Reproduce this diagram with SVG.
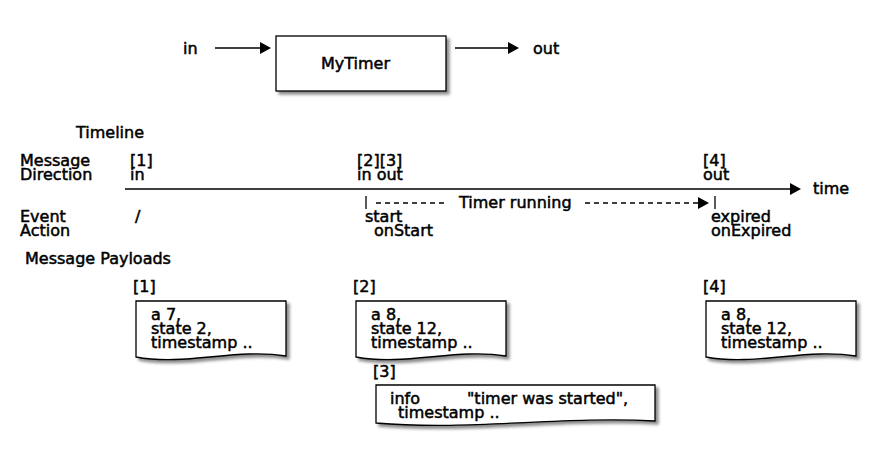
<svg xmlns="http://www.w3.org/2000/svg" width="880" height="462" viewBox="0 0 880 462">
<style>
text{font-family:"DejaVu Sans",sans-serif;font-size:16px;fill:#000;stroke:#000;stroke-width:0.5}
.ln{stroke:#000;stroke-width:1.3;fill:none}
.dash{stroke:#000;stroke-width:1.3;fill:none;stroke-dasharray:5,4}
.box{fill:#fff;stroke:#000;stroke-width:1.3;filter:url(#sh)}
.ah{fill:#000}
</style>
<defs>
<filter id="sh" x="-10%" y="-10%" width="130%" height="140%">
<feDropShadow dx="3" dy="3" stdDeviation="1.6" flood-color="#000" flood-opacity="0.45"/>
</filter>
</defs>
<rect width="880" height="462" fill="#fff"/>
<g id="mytimer">
<rect class="box" x="276" y="36" width="170" height="55"/>
<text x="321" y="69">MyTimer</text>
</g>
<g id="in-label"><text x="183" y="54">in</text></g>
<g id="out-label"><text x="533" y="54">out</text></g>
<g id="timeline-labels">
<text x="76" y="138">Timeline</text>
<text x="20" y="166">Message<tspan x="20" dy="14">Direction</tspan></text>
<text x="130" y="166">[1]<tspan x="130" dy="14">in</tspan></text>
<text x="357" y="166">[2][3]<tspan x="357" dy="14">in out</tspan></text>
<text x="703" y="166">[4]<tspan x="703" dy="14">out</tspan></text>
<text x="813" y="194">time</text>
<text x="459" y="208">Timer running</text>
<text x="20" y="222">Event<tspan x="20" dy="14">Action</tspan></text>
<text x="135" y="222">/</text>
<text x="365" y="222">start<tspan x="374" dy="14">onStart</tspan></text>
<text x="711" y="222">expired<tspan x="711" dy="14">onExpired</tspan></text>
<text x="25" y="264">Message Payloads</text>
</g>
<g id="connectors">
<line class="ln" x1="215" y1="48" x2="262" y2="48"/>
<polygon class="ah" points="260,42 271,48 260,54"/>
<line class="ln" x1="455" y1="48" x2="510" y2="48"/>
<polygon class="ah" points="508,42 519,48 508,54"/>
<line class="ln" x1="125" y1="189" x2="792" y2="189"/>
<polygon class="ah" points="790,183 801,189 790,195"/>
<line class="ln" x1="366" y1="196" x2="366" y2="209"/>
<line class="dash" x1="376" y1="203" x2="445" y2="203"/>
<line class="dash" x1="585" y1="203" x2="700" y2="203"/>
<polygon class="ah" points="698,197 709,203 698,209"/>
<line class="ln" x1="715" y1="196" x2="715" y2="209"/>
</g>
<g id="payload1">
<text x="133" y="292">[1]</text>
<path class="box" d="M136,301 H286 V356 C236,348 186,366 136,357 Z"/>
<text x="151" y="320">a 7,<tspan x="151" dy="14">state 2,</tspan><tspan x="151" dy="14">timestamp ..</tspan></text>
</g>
<g id="payload2">
<text x="353" y="292">[2]</text>
<path class="box" d="M356,301 H506 V356 C456,348 406,366 356,357 Z"/>
<text x="371" y="320">a 8,<tspan x="371" dy="14">state 12,</tspan><tspan x="371" dy="14">timestamp ..</tspan></text>
</g>
<g id="payload4">
<text x="703" y="292">[4]</text>
<path class="box" d="M706,301 H856 V356 C806,348 756,366 706,357 Z"/>
<text x="721" y="320">a 8,<tspan x="721" dy="14">state 12,</tspan><tspan x="721" dy="14">timestamp ..</tspan></text>
</g>
<g id="payload3">
<text x="373" y="377">[3]</text>
<path class="box" d="M376,385 H655 V421 C560,416 470,431 376,423 Z"/>
<text x="390" y="404">info<tspan x="467">"timer was started",</tspan><tspan x="398" dy="14">timestamp ..</tspan></text>
</g>
</svg>
